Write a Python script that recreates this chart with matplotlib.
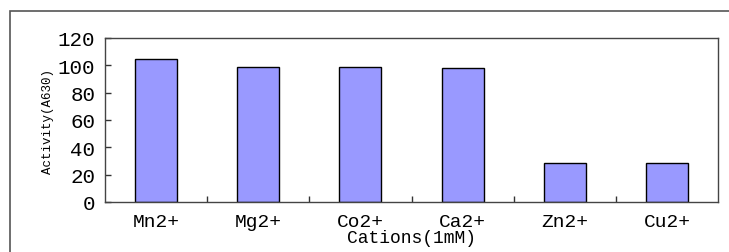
import matplotlib.pyplot as plt
from matplotlib.patches import Rectangle
from matplotlib.ticker import FixedLocator
import numpy as np

cations = ['Mn2+', 'Mg2+', 'Co2+', 'Ca2+', 'Zn2+', 'Cu2+']
activity = [105, 98.5, 98.7, 97.8, 28.5, 28.5]
yticks = [0, 20, 40, 60, 80, 100, 120]

plt.rcParams['font.family'] = ['Liberation Mono', 'DejaVu Sans Mono']

fig = plt.figure(figsize=(7.29, 2.53), dpi=100)
# outer chart frame, cut by the image edges
fig.patches.append(Rectangle((10 / 729, -0.2), 1.2, 0.2 + 1 - 12 / 253,
                             transform=fig.transFigure, fill=False,
                             edgecolor='#555555', linewidth=1.2))

ax = fig.add_axes([105 / 729, 50 / 253, 613 / 729, 164 / 253])
x = np.arange(len(cations))
ax.bar(x, activity, width=0.41, color='#9999ff', edgecolor='black', linewidth=1.0)

ax.set_xlim(-0.5, len(cations) - 0.5)
ax.set_ylim(0, 120)
ax.set_yticks(yticks)
ax.set_xticks(x)
ax.set_xticklabels(cations)
ax.xaxis.set_minor_locator(FixedLocator(x[:-1] + 0.5))
ax.tick_params(axis='x', which='major', length=0, pad=8, labelsize=14)
ax.tick_params(axis='x', which='minor', direction='in', length=4, width=1, color='#333333')
ax.tick_params(axis='y', direction='in', length=4, width=1, color='#333333', pad=7, labelsize=15)

for s in ax.spines.values():
    s.set_color('#444444')
    s.set_linewidth(1.0)

ax.set_xlabel('Cations(1mM)', fontsize=13, labelpad=-1)
ax.set_ylabel('Activity(A630)', fontsize=9, labelpad=3)

fig.savefig('out.png', dpi=100)
